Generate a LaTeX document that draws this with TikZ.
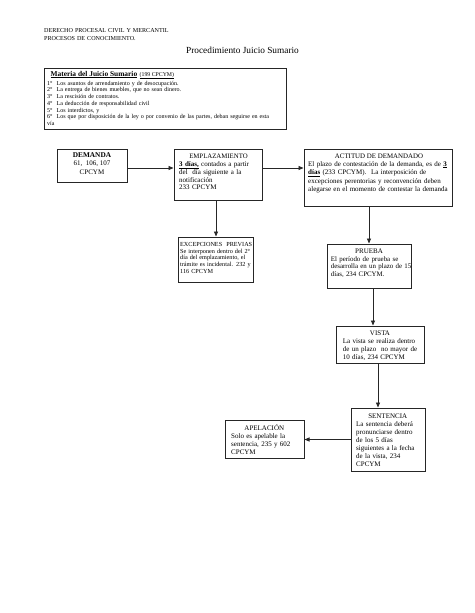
\documentclass[tikz,border=0pt]{standalone}
\usepackage{fontspec}
\setmainfont{Liberation Serif}
\usetikzlibrary{arrows.meta}
\newcommand\myfs[2]{\fontsize{#1}{#2}\selectfont}
\newcommand\tp[1]{\rule{0pt}{#1pt}}
\begin{document}
\begin{tikzpicture}[x=1pt,y=-1pt,
 box/.style={draw=black!85,line width=1pt,inner sep=0pt},
 arr/.style={draw=black!85,line width=0.8pt,-{Triangle[length=5pt,width=4pt]}},
 ttl/.style={inner sep=0pt,anchor=base,font=\myfs{7}{8}},
 body/.style={inner sep=0pt,anchor=north west,align=left,text width=#1},
]
\fill[white] (0,0) rectangle (474,613);
\path[use as bounding box] (0,0) rectangle (474,613);

% header
\node[body=200pt,font=\myfs{6.1}{7.6}] (hdr) at (44,28.2)
  {\tp{4.5}DERECHO PROCESAL CIVIL Y MERCANTIL\\PROCESOS DE CONOCIMIENTO.};
\node[inner sep=0pt,anchor=base west,font=\myfs{9.3}{11}] (title) at (186,53.2)
  {Procedimiento Juicio Sumario};

% materia box
\node[box,minimum width=242pt,minimum height=61pt] (mat) at (165,98.5) {};
\node[inner sep=0pt,anchor=base west] (matt) at (50.5,76)
  {{\bfseries\myfs{7.4}{8}\underline{Materia del Juicio Sumario}} {\myfs{5.8}{7}\underline{(199 CPCYM)}}};
\node[body=270pt,font=\myfs{6}{6.75}] (matl) at (47,80.5)
  {\tp{4.5}1°~~Los asuntos de arrendamiento y de desocupación.\\
   2°~~La entrega de bienes muebles, que no sean dinero.\\
   3°~~La rescisión de contratos.\\
   4°~~La deducción de responsabilidad civil\\
   5°~~Los interdictos, y\\
   6°~~Los que por disposición de la ley o por convenio de las partes, deban seguirse en esta\\
   vía};

% boxes
\node[box,minimum width=70pt,minimum height=33pt] (dem) at (92,165.5) {};
\node[box,minimum width=88pt,minimum height=51pt] (emp) at (218,174.5) {};
\node[box,minimum width=148pt,minimum height=57pt] (act) at (378,177.5) {};
\node[box,minimum width=75pt,minimum height=45pt] (exc) at (215.5,259.5) {};
\node[box,minimum width=84pt,minimum height=44pt] (pru) at (369,266) {};
\node[box,minimum width=88pt,minimum height=37pt] (vis) at (380,344.5) {};
\node[box,minimum width=74pt,minimum height=63pt] (sen) at (388,439.5) {};
\node[box,minimum width=79pt,minimum height=38pt] (ape) at (264.5,439) {};

% DEMANDA
\node[inner sep=0pt,anchor=north,align=center,font=\myfs{7}{8.2}] (demt) at (92,152.5)
  {\tp{5}{\bfseries\myfs{7.3}{8.2}DEMANDA}\\61,~~106, 107\\CPCYM};

% EMPLAZAMIENTO
\node[ttl,font=\myfs{6.8}{8}] (empt) at (218.5,158.5) {EMPLAZAMIENTO};
\node[body=85pt,font=\myfs{7}{7.3}] (empb) at (179,160.8)
  {\tp{5}\underline{\textbf{3 días,}} contados a partir\\del~~día siguiente a la\\notificación\\233 CPCYM};

% ACTITUD
\node[ttl,font=\myfs{6.9}{8}] (actt) at (379,158.5) {ACTITUD DE DEMANDADO};
\node[body=150pt,font=\myfs{7}{8.4}] (actb) at (308,161)
  {\tp{5}El plazo de contestación de la demanda, es de \underline{\textbf{3}}\\
   \underline{\textbf{días}} (233 CPCYM).~~La interposición de\\
   excepciones perentorias y reconvención deben\\
   alegarse en el momento de contestar la demanda};

% EXCEPCIONES
\node[body=80pt,font=\myfs{6.2}{6.7}] (excb) at (180,241.8)
  {\tp{4.5}EXCEPCIONES~~PREVIAS\\Se interponen dentro del 2°\\día del emplazamiento, el\\trámite es incidental. 232 y\\116 CPCYM};

% PRUEBA
\node[ttl] (prut) at (369,253.3) {PRUEBA};
\node[body=85pt,font=\myfs{6.9}{7.7}] (prub) at (330.7,256)
  {\tp{5}El período de prueba se\\desarrolla en un plazo de 15\\días, 234 CPCYM.};

% VISTA
\node[ttl] (vist) at (380,335.7) {VISTA};
\node[body=85pt,font=\myfs{7}{8}] (visb) at (342.7,338.5)
  {\tp{5}La vista se realiza dentro\\de un plazo~~no mayor de\\10 días, 234 CPCYM};

% SENTENCIA
\node[ttl] (sent) at (387.7,418) {SENTENCIA};
\node[body=75pt,font=\myfs{7}{8}] (senb) at (356,421)
  {\tp{5}La sentencia deberá\\pronunciarse dentro\\de los 5 días\\siguientes a la fecha\\de la vista, 234\\CPCYM};

% APELACION
\node[ttl] (apet) at (264.3,430) {APELACIÓN};
\node[body=80pt,font=\myfs{7}{8.1}] (apeb) at (231,433.5)
  {\tp{5}Solo es apelable la\\sentencia, 235 y 602\\CPCYM};

% connectors
\coordinate (ya) at (0,168);
\coordinate (xe) at (216,0);
\coordinate (xp) at (373,0);
\coordinate (xv) at (378,0);
\draw[arr] (dem.east |- ya) -- (emp.west |- ya);
\draw[arr] (emp.east |- ya) -- (act.west |- ya);
\draw[arr] (xe |- emp.south) -- (xe |- exc.north);
\draw[arr] (pru.north |- act.south) -- (pru.north);
\draw[arr] (xp |- pru.south) -- (xp |- vis.north);
\draw[arr] (xv |- vis.south) -- (xv |- sen.north);
\draw[arr] (sen.west) -- (sen.west -| ape.east);
\end{tikzpicture}
\end{document}
